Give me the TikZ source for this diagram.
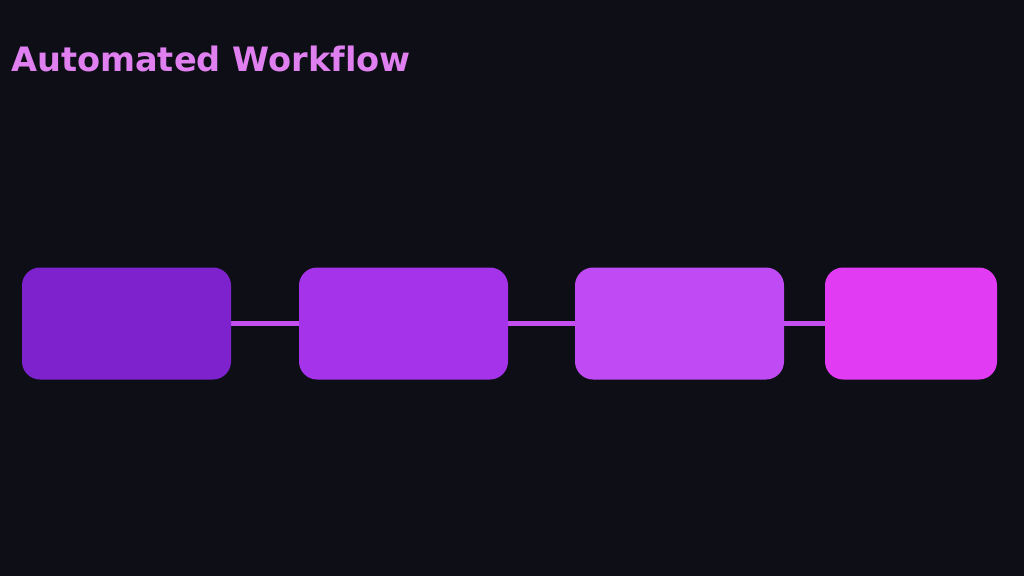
\documentclass[tikz,border=0pt]{standalone}
\usepackage{fontspec}
\setmainfont[Ligatures=NoCommon]{DejaVu Sans}
\definecolor{bgdark}{HTML}{0D0E16}
\definecolor{titlecol}{HTML}{E07FF0}
\definecolor{linkcol}{HTML}{C34FF0}
\definecolor{stepa}{HTML}{7E22CE}
\definecolor{stepb}{HTML}{A433EA}
\definecolor{stepc}{HTML}{C04BF5}
\definecolor{stepd}{HTML}{E13BF4}
\begin{document}
\begin{tikzpicture}[x=1pt,y=-1pt,
    stage/.style={rounded corners=18pt,minimum height=112pt,inner sep=0pt},
    link/.style={linkcol,line width=5.5pt}]
            \fill[bgdark] (0,0) rectangle (1024,576);
            \useasboundingbox (0,0) rectangle (1024,576);
            \node[anchor=base west,titlecol,font=\bfseries\fontsize{33.6}{40}\selectfont,inner sep=0pt] (title) at (11,71) {Automated Workflow};
            \draw[link] (126,323.5) -- (911,323.5);
            \node[stage,fill=stepa,minimum width=209pt] (fetch) at (126.5,323.5) {};
            \node[stage,fill=stepb,minimum width=209pt] (parse) at (403.5,323.5) {};
            \node[stage,fill=stepc,minimum width=209pt] (check) at (679.5,323.5) {};
            \node[stage,fill=stepd,minimum width=172pt] (ship) at (911,323.5) {};
         \end{tikzpicture}
\end{document}
